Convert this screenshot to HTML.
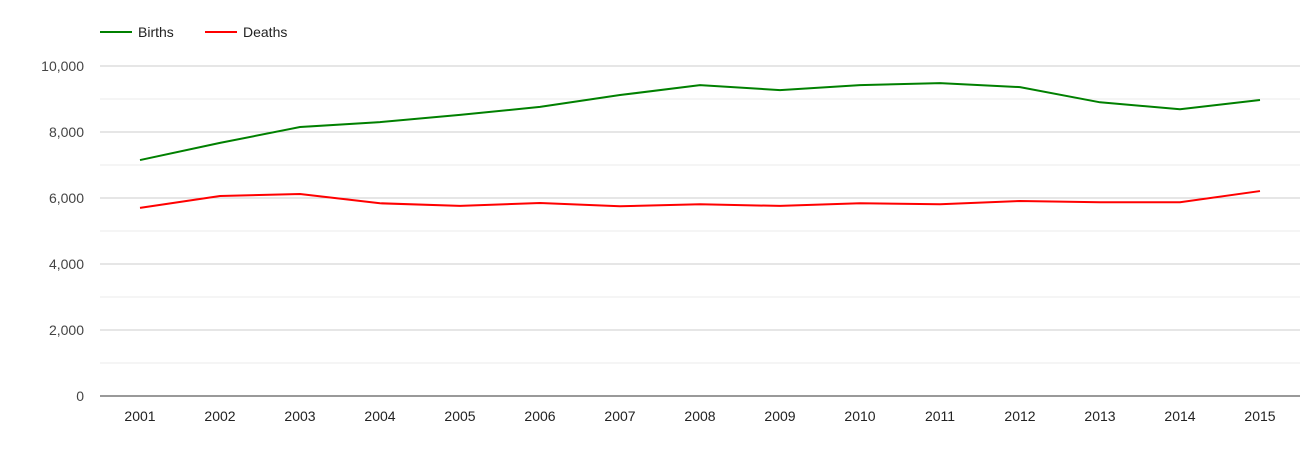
<!DOCTYPE html>
<html><head><meta charset="utf-8"><style>
body{margin:0;background:#fff;font-family:"Liberation Sans",Arial,sans-serif;}
svg{display:block}
</style></head><body>
<svg id="chart" width="1305" height="450" font-family="Liberation Sans, Arial, sans-serif">
<g>
<g><line x1="100" y1="32" x2="132" y2="32" stroke="#008000" stroke-width="2"/><text x="138" y="37" font-size="14" fill="#222">Births</text></g>
<g><line x1="205" y1="32" x2="237" y2="32" stroke="#ff0000" stroke-width="2"/><text x="243" y="37" font-size="14" fill="#222">Deaths</text></g>
</g>
<g id="grid"></g>
<g id="yaxis"></g>
<g id="xaxis"></g>
<g id="series"></g>
</svg>
<script>
const categories=["2001","2002","2003","2004","2005","2006","2007","2008","2009","2010","2011","2012","2013","2014","2015"];
const births=[7150,7670,8150,8300,8520,8760,9120,9420,9270,9420,9480,9360,8900,8690,8970];
const deaths=[5700,6060,6120,5840,5760,5850,5750,5810,5760,5840,5810,5910,5870,5870,6210];
const yTicks=[0,2000,4000,6000,8000,10000];
const yTickLabels=["0","2,000","4,000","6,000","8,000","10,000"];
const NS="http://www.w3.org/2000/svg";
const plotLeft=100,plotRight=1300,plotTop=66,plotBottom=396,yMax=10000;
const band=(plotRight-plotLeft)/categories.length;
const xs=i=>plotLeft+band*(i+0.5);
const ys=v=>plotBottom-(v/yMax)*(plotBottom-plotTop);
function mk(tag,attrs,parent){const e=document.createElementNS(NS,tag);for(const k in attrs)e.setAttribute(k,attrs[k]);parent.appendChild(e);return e;}
const grid=document.getElementById('grid'),ya=document.getElementById('yaxis'),xa=document.getElementById('xaxis'),ser=document.getElementById('series');
for(let v=1000;v<=yMax;v+=1000){
 const major=yTicks.includes(v);
 const l=mk('line',{x1:plotLeft,x2:plotRight,y1:ys(v),y2:ys(v),stroke:major?'#cccccc':'#ebebeb','stroke-width':1},grid);
 
 
}
yTicks.forEach((v,i)=>{
 const t=mk('text',{x:84,y:ys(v)+5,'text-anchor':'end','font-size':14,fill:'#444'},ya);
 t.textContent=yTickLabels[i];
 
 
});
const base=mk('line',{x1:plotLeft,x2:plotRight,y1:plotBottom,y2:plotBottom,stroke:'#333','stroke-width':1},xa);


categories.forEach((c,i)=>{
 const t=mk('text',{x:xs(i),y:421,'text-anchor':'middle','font-size':14,fill:'#222'},xa);
 t.textContent=c;
 
 
});
function drawLine(data,color,name){
 const p=mk('polyline',{points:data.map((v,i)=>xs(i)+','+ys(v)).join(' '),fill:'none',stroke:color,'stroke-width':2},ser);
 
 
}
drawLine(births,'#008000','births-line');
drawLine(deaths,'#ff0000','deaths-line');
</script>
</body></html>
